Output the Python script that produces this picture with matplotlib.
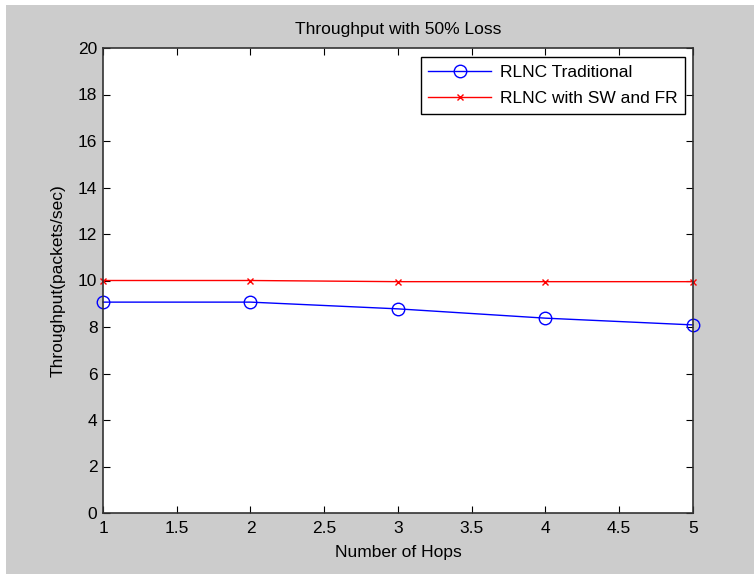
import numpy as np
import matplotlib
matplotlib.use('Agg')
import matplotlib.pyplot as plt

plt.rcParams['font.family'] = ['Liberation Sans', 'DejaVu Sans']

hops = [1, 2, 3, 4, 5]
rlnc_trad = [9.07, 9.07, 8.78, 8.38, 8.09]
rlnc_swfr = [10.0, 10.0, 9.95, 9.95, 9.95]
xticks = [1, 1.5, 2, 2.5, 3, 3.5, 4, 4.5, 5]
yticks = list(range(0, 21, 2))

fig = plt.figure(figsize=(7.54, 5.75), dpi=100, facecolor='white')
# grey MATLAB-style figure area inside a thin white border
bg = fig.add_axes([6/754, 1 - 574/575, 748/754, 569/575])
bg.set_facecolor('#cccccc')
bg.set_xticks([])
bg.set_yticks([])
for s in bg.spines.values():
    s.set_visible(False)
bg.set_zorder(-10)

ax = fig.add_axes([103/754, 1 - 513/575, 590/754, 465/575])
ax.set_facecolor('white')

ax.plot(hops, rlnc_trad, color='blue', marker='o', markersize=9, markerfacecolor='none',
        markeredgecolor='blue', linewidth=1, label='RLNC Traditional', clip_on=False)
ax.plot(hops, rlnc_swfr, color='red', marker='x', markersize=5, linewidth=1,
        label='RLNC with SW and FR', clip_on=False)

ax.set_xlim(1, 5)
ax.set_ylim(0, 20)
ax.set_xticks(xticks)
ax.set_xticklabels(['1', '1.5', '2', '2.5', '3', '3.5', '4', '4.5', '5'])
ax.set_yticks(yticks)
ax.tick_params(direction='in', top=True, right=True, length=5, labelsize=12.5)
ax.tick_params(axis='x', pad=6)
ax.tick_params(axis='y', pad=4)
for s in ax.spines.values():
    s.set_linewidth(1.2)
    s.set_color('#333333')

ax.set_title('Throughput with 50% Loss', fontsize=12.5, pad=10)
ax.set_xlabel('Number of Hops', fontsize=12.5, labelpad=6)
ax.set_ylabel('Throughput(packets/sec)', fontsize=12.5, labelpad=9)

leg = ax.legend(loc='upper right', bbox_to_anchor=(0.9865, 0.981), fontsize=12.5, fancybox=False,
                framealpha=1, edgecolor='black', borderpad=0.45, handlelength=3.6,
                handletextpad=0.5, labelspacing=0.65, borderaxespad=0)
leg.get_frame().set_linewidth(1)

fig.savefig('out.png', dpi=100, facecolor='white')
